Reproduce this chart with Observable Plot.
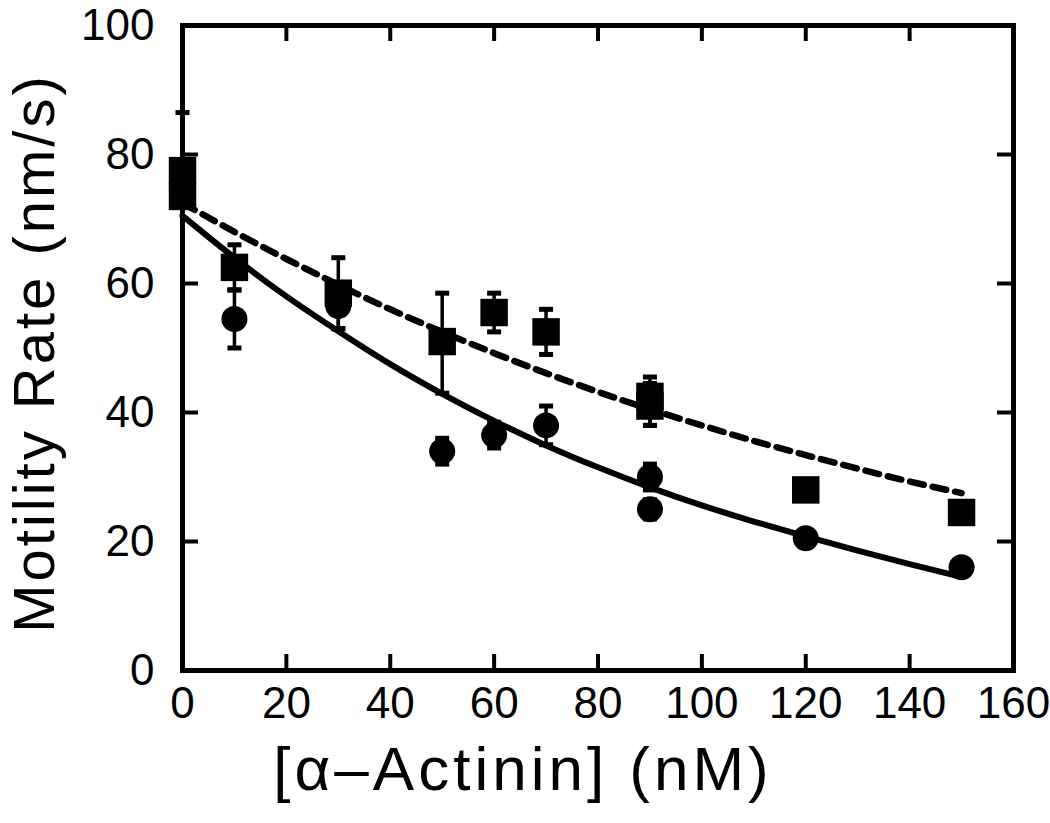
<!DOCTYPE html>
<html><head><meta charset="utf-8">
<script src="https://cdn.jsdelivr.net/npm/d3@7"></script>
<script src="https://cdn.jsdelivr.net/npm/@observablehq/plot@0.6"></script>
<style>body{margin:0;background:#fff} #chart svg{font-family:"Liberation Sans",Arial,sans-serif}</style>
</head><body><div id="chart"></div>
<script>
// Tick labels
const xTicks = [0, 20, 40, 60, 80, 100, 120, 140, 160];
const yTicks = [0, 20, 40, 60, 80, 100];
const xLabel = "[\u03b1\u2013Actinin] (nM)";
const yLabel = "Motility Rate (nm/s)";

// Square series (dashed fit)
const sqX  = [0, 0, 10, 30, 50, 60, 70, 90, 90, 120, 150];
const sqY  = [77.5, 73.5, 62.5, 58.5, 51, 55.5, 52.5, 42.5, 41, 28, 24.5];
const sqLo = [77.5, 73.5, 59, 53, 43, 52.5, 49, 38, 38, 27, 23.5];
const sqHi = [86.5, 73.5, 66, 64, 58.5, 58.5, 56, 45.5, 44.5, 29, 25.5];

// Circle series (solid fit)
const ciX  = [10, 30, 50, 60, 70, 90, 90, 120, 150];
const ciY  = [54.5, 56.5, 34, 36.5, 38, 30, 25, 20.5, 16];
const ciLo = [50, 53, 32, 34.5, 35, 28, 23.5, 19.5, 15.5];
const ciHi = [59, 60, 36, 38.5, 41, 32, 26.5, 21.5, 16.5];

// Fit curves
const fitX    = [0, 10, 20, 30, 40, 50, 60, 70, 80, 90, 100, 110, 120, 130, 140, 150];
const solidY  = [70.5, 64, 58, 52.6, 47.5, 42.9, 38.7, 34.9, 31.5, 28.4, 25.6, 23.1, 20.8, 18.6, 16.5, 14.5];
const dashedY = [72.5, 68, 63.8, 59.8, 56, 52.5, 49.2, 46.1, 43.2, 40.5, 38, 35.6, 33.4, 31.3, 29.3, 27.5];

const squares = sqX.map((x, i) => ({x, y: sqY[i], lo: sqLo[i], hi: sqHi[i]}));
const circles = ciX.map((x, i) => ({x, y: ciY[i], lo: ciLo[i], hi: ciHi[i]}));
const solid = fitX.map((x, i) => ({x, y: solidY[i]}));
const dashed = fitX.map((x, i) => ({x, y: dashedY[i]}));
const errs = squares.concat(circles).filter(d => d.hi > d.lo);

const cap = {draw(ctx, size) { const w = Math.sqrt(size / Math.PI); ctx.moveTo(-w, 0); ctx.lineTo(w, 0); }};

const W = 1050, H = 823, mL = 182, mR = 37, mT = 25, mB = 153;
const iW = W - mL - mR, iH = H - mT - mB;
const tick = 16;

const chart = Plot.plot({
  width: W, height: H,
  marginLeft: mL, marginRight: mR, marginTop: mT, marginBottom: mB,
  x: {domain: [0, 160]},
  y: {domain: [0, 100]},
  style: {fontFamily: "'Liberation Sans', Arial, sans-serif", color: "black", background: "white"},
  marks: [
    Plot.axisX(xTicks, {tickSize: 0, tickPadding: 16, fontSize: 44, label: null}),
    Plot.axisY(yTicks, {tickSize: 0, tickPadding: 28, fontSize: 44, label: null}),
    Plot.tickX(xTicks, {x: d => d, insetTop: iH - tick, strokeWidth: 4}),
    Plot.tickX(xTicks, {x: d => d, insetBottom: iH - tick, strokeWidth: 4}),
    Plot.tickY(yTicks, {y: d => d, insetRight: iW - tick, strokeWidth: 4}),
    Plot.tickY(yTicks, {y: d => d, insetLeft: iW - tick, strokeWidth: 4}),
    Plot.line(dashed, {x: "x", y: "y", stroke: "black", strokeWidth: 6.5, strokeDasharray: "14,9", curve: "natural"}),
    Plot.line(solid, {x: "x", y: "y", stroke: "black", strokeWidth: 6, curve: "natural"}),
    Plot.ruleX(errs, {x: "x", y1: "lo", y2: "hi", stroke: "black", strokeWidth: 3.5}),
    Plot.dot(errs, {x: "x", y: "lo", symbol: cap, r: 7, stroke: "black", fill: "none", strokeWidth: 5}),
    Plot.dot(errs, {x: "x", y: "hi", symbol: cap, r: 7, stroke: "black", fill: "none", strokeWidth: 5}),
    Plot.dot(circles, {x: "x", y: "y", symbol: "circle", r: 13, fill: "black", stroke: "none"}),
    Plot.dot(squares, {x: "x", y: "y", symbol: "square", r: 15.5, fill: "black", stroke: "none"}),
    Plot.frame({stroke: "black", strokeWidth: 5}),
    Plot.text([xLabel], {frameAnchor: "bottom", textAnchor: "middle", lineAnchor: "middle", dx: -75, dy: 100, fontSize: 62, fill: "black"}),
    Plot.text([yLabel], {frameAnchor: "left", textAnchor: "middle", lineAnchor: "middle", dx: -147, dy: 5, rotate: -90, fontSize: 58, fill: "black"})
  ]
});
// Widen label letter spacing to match the reference's wide lettering
d3.select(chart).selectAll("text").filter(function() { return this.textContent === xLabel; }).attr("letter-spacing", 4);
d3.select(chart).selectAll("text").filter(function() { return this.textContent === yLabel; }).attr("letter-spacing", 3);
document.getElementById("chart").appendChild(chart);
</script>
</body></html>
